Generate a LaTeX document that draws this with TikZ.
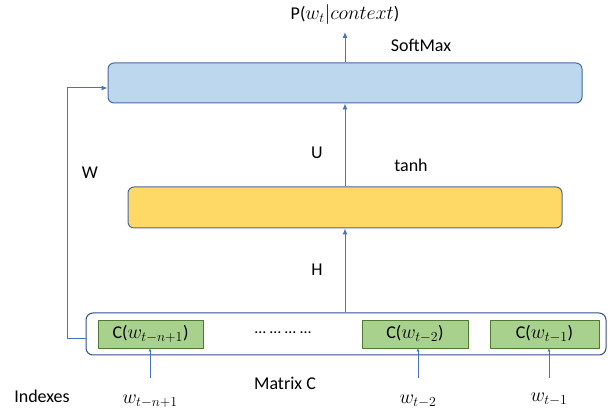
\documentclass[tikz,border=0pt]{standalone}
\usepackage{fontspec}
\setmainfont{Carlito}
\usepackage{graphicx}
\usetikzlibrary{arrows.meta}
\definecolor{lineblue}{HTML}{4472C4}
\definecolor{boxedge}{HTML}{4A6A9A}
\definecolor{softfill}{HTML}{BDD7EE}
\definecolor{tanhfill}{HTML}{FFD966}
\definecolor{embfill}{HTML}{A9D18E}
\definecolor{embedge}{HTML}{4E7A30}
\definecolor{matedge}{HTML}{2F4F8F}
% slightly enlarged math symbols next to the text face
\newcommand{\wmath}[1]{\scalebox{1.15}{$#1$}}
\begin{document}
\begin{tikzpicture}[x=1pt,y=-1pt,
  every node/.style={font=\fontsize{18}{21}\selectfont, inner sep=0pt},
  layer/.style={draw=boxedge, line width=1pt, rounded corners=6pt, inner sep=0pt},
  embbox/.style={draw=embedge, fill=embfill, line width=0.9pt, minimum width=105pt, minimum height=28pt},
  flow/.style={draw=lineblue, line width=1pt, -{Latex[length=6pt,width=5pt]}},
  feed/.style={draw=lineblue, line width=0.8pt, -{Latex[length=3pt,width=3pt]}}]
\useasboundingbox (0,0) rectangle (611,411);

% layers
\node[layer, fill=softfill, minimum width=474pt, minimum height=40pt] (soft) at (345,83) {};
\node[layer, fill=tanhfill, minimum width=434pt, minimum height=41pt] (tanh) at (345,207.5) {};
\node[layer, draw=matedge, rounded corners=7pt, minimum width=520pt, minimum height=42pt] (mat) at (346,334) {};

% embedding boxes
\node[embbox] (c1) at (150.5,334) {C(\wmath{w_{t-n+1}})};
\node[embbox, minimum width=106pt] (c2) at (415,334) {C(\wmath{w_{t-2}})};
\node[embbox, minimum width=109pt] (c3) at (544.5,334) {C(\wmath{w_{t-1}})};
\node (dots) at (283,333) {\fontsize{16}{16}\selectfont\dots\hspace{4pt}\dots\hspace{4pt}\dots\hspace{4pt}\dots};

% output
\coordinate (out) at (345,32);
\node (prob) at (345,15) {P(\wmath{w_t|context})};
\draw[flow] (soft.north) -- (out);
\node (sm) at (421,45) {SoftMax};

% hidden connections
\draw[flow] (tanh.north) -- (soft.south);
\node (U) at (317,153) {U};
\node (tl) at (411,165) {tanh};
\draw[flow] (mat.north -| tanh.north) -- (tanh.south);
\node (H) at (317,270) {H};

% direct connection
\coordinate (wcorner) at (67,88);
\draw[flow] (mat.west) ++(0,5) -| (wcorner) -- (soft.west |- wcorner);
\node (W) at (90,173) {W};

% inputs
\coordinate (i1) at (150,378);
\coordinate (i2) at (418,378);
\coordinate (i3) at (549,378);
\draw[feed] (i1) -- (c1.south -| i1);
\draw[feed] (i2) -- (c2.south -| i2);
\draw[feed] (i3) -- (c3.south -| i3);
\node (w1) at (150,401) {\wmath{w_{t-n+1}}};
\node (w2) at (418,401) {\wmath{w_{t-2}}};
\node (w3) at (549,399) {\wmath{w_{t-1}}};
\node (mc) at (285,383) {Matrix C};
\node (idx) at (42,396) {Indexes};
\end{tikzpicture}
\end{document}
